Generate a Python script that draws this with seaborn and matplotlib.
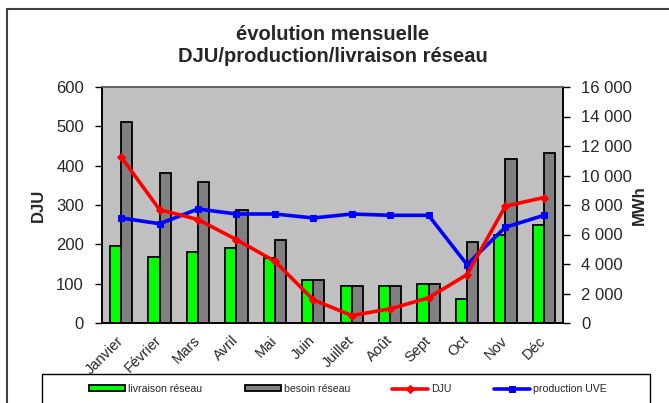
import numpy as np
import pandas as pd
import matplotlib
matplotlib.use("Agg")
import matplotlib.pyplot as plt
from matplotlib.ticker import FuncFormatter, FixedLocator
from matplotlib.patches import Rectangle
import seaborn as sns

months = ["Janvier", "Février", "Mars", "Avril", "Mai", "Juin",
          "Juillet", "Août", "Sept", "Oct", "Nov", "Déc"]
livraison = [5200, 4480, 4840, 5110, 4410, 2890, 2510, 2530, 2620, 1650, 5940, 6620]
besoin = [13650, 10170, 9540, 7690, 5630, 2890, 2510, 2530, 2620, 5470, 11140, 11500]
dju = [422, 288, 263, 212, 157, 59, 19, 36, 64, 123, 297, 319]
production = [7120, 6730, 7730, 7390, 7390, 7120, 7390, 7300, 7300, 3960, 6490, 7300]

sns.set_style("white")
plt.rcParams["font.family"] = ["Liberation Sans", "DejaVu Sans"]

fig = plt.figure(figsize=(6.69, 4.03), dpi=100)
ax = fig.add_axes([102/669, 1-323/403, (563-102)/669, (323-87)/403])
ax.set_facecolor("#C0C0C0")

df = pd.DataFrame({
    "mois": months * 2,
    "valeur": livraison + besoin,
    "serie": ["livraison réseau"] * 12 + ["besoin réseau"] * 12,
})
sns.barplot(data=df, x="mois", y="valeur", hue="serie", order=months,
            hue_order=["livraison réseau", "besoin réseau"],
            palette={"livraison réseau": "#00FF00", "besoin réseau": "#808080"},
            edgecolor="black", linewidth=1.3, width=0.58, gap=0, ax=ax,
            legend=True, saturation=1)
pos = np.arange(len(months))
sns.lineplot(x=pos, y=production, ax=ax, color="#0000FF", lw=2.6,
             marker="s", markersize=4, markeredgecolor="#0000FF",
             label="production UVE")
ax.set_ylim(0, 16000)
ax.set_xlim(-0.5, 11.5)

ax2 = ax.twinx()
ax2.patch.set_visible(False)
sns.lineplot(x=pos, y=dju, ax=ax2, color="#FF0000", lw=2.6,
             marker="D", markersize=4, markeredgecolor="#FF0000", label="DJU")
ax2.set_ylim(0, 600)
ax2.set_xlim(-0.5, 11.5)

# right axis (MWh) on ax
ax.yaxis.tick_right()
ax.yaxis.set_label_position("right")
ax.yaxis.set_major_locator(FixedLocator(np.arange(0, 16001, 2000)))
ax.yaxis.set_major_formatter(FuncFormatter(lambda v, p: f"{int(v):,}".replace(",", " ")))
ax.set_ylabel("MWh", fontsize=12, fontweight="bold", labelpad=0)
ax.set_xlabel("")

# left axis (DJU) on ax2
ax2.yaxis.tick_left()
ax2.yaxis.set_label_position("left")
ax2.yaxis.set_major_locator(FixedLocator(np.arange(0, 601, 100)))
ax2.set_ylabel("DJU", fontsize=12, fontweight="bold", labelpad=7)

for a in (ax, ax2):
    a.tick_params(axis="y", which="major", direction="out", length=5, width=1,
                  color="black", labelsize=12, pad=8)
    for s in ("left", "right", "bottom"):
        a.spines[s].set_color("black")
        a.spines[s].set_linewidth(1.2)
    a.spines["top"].set_color("#606060")
    a.spines["top"].set_linewidth(1.2)

ax.set_xticks(pos)
ax.set_xticklabels(months, rotation=45, ha="right", va="center",
                   rotation_mode="anchor", fontsize=10.5)
ax.set_xticks(np.arange(-0.5, 12, 1), minor=True)
ax.tick_params(axis="x", which="major", length=0, pad=11)
ax.tick_params(axis="x", which="minor", direction="out", length=5, width=1, color="black")
ax2.tick_params(axis="x", which="both", length=0, labelbottom=False)
ax.grid(False)
ax2.grid(False)

# legend
h1, l1 = ax.get_legend_handles_labels()
h2, l2 = ax2.get_legend_handles_labels()
hd = dict(zip(l1 + l2, h1 + h2))
order = ["livraison réseau", "besoin réseau", "DJU", "production UVE"]
if ax.get_legend():
    ax.get_legend().remove()
if ax2.get_legend():
    ax2.get_legend().remove()
leg = fig.legend([hd[k] for k in order], order, ncol=4, loc="center",
                 bbox_to_anchor=(348/669, 1-389/403),
                 frameon=False, fontsize=7.6,
                 handlelength=3.4, handleheight=0.5, borderpad=0,
                 columnspacing=4.0, handletextpad=0.3)
fig.patches.append(Rectangle((42/669, -0.1), (650-42)/669, 1-374/403+0.1,
                             transform=fig.transFigure, fill=False,
                             edgecolor="black", linewidth=1.0))

# titles
fig.text(0.497, 1-34/403, "évolution mensuelle", ha="center", va="center",
         fontsize=14.5, fontweight="bold")
fig.text(0.497, 1-56/403, "DJU/production/livraison réseau", ha="center", va="center",
         fontsize=14.5, fontweight="bold")

# outer frame
fig.patches.append(Rectangle((7/669, -0.1), 1.2, 1 - 9/403 + 0.1,
                             transform=fig.transFigure, fill=False,
                             edgecolor="#404040", linewidth=1.5))

fig.savefig("out.png", dpi=100)
